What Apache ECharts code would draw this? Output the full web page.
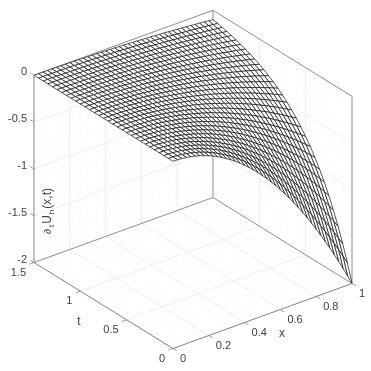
<!DOCTYPE html>
<html><head><meta charset="utf-8">
<style>html,body{margin:0;padding:0;background:#fff}#c{width:371px;height:371px}</style>
<script src="https://cdn.jsdelivr.net/npm/echarts@6/dist/echarts.min.js"></script>
</head><body><div id="c"></div>
<script>
const xMesh=[0,.025,.05,.075,.1,.125,.15,.175,.2,.225,.25,.275,.3,.325,.35,.375,.4,.425,.45,.475,.5,.525,.55,.575,.6,.625,.65,.675,.7,.725,.75,.775,.8,.825,.85,.875,.9,.925,.95,.975,1];
const tMesh=[0,.05,.1,.15,.2,.25,.3,.35,.4,.45,.5,.55,.6,.65,.7,.75,.8,.85,.9,.95,1,1.05,1.1,1.15,1.2,1.25,1.3,1.35,1.4,1.45,1.5];
// Height of the surface below z=0, one row per t in tMesh, one column per x in xMesh
const depthRows=[
[0,.001,.005,.011,.02,.031,.045,.061,.08,.101,.125,.151,.18,.211,.245,.281,.32,.361,.405,.451,.5,.551,.605,.661,.72,.781,.845,.911,.98,1.051,1.125,1.201,1.28,1.361,1.445,1.531,1.62,1.711,1.805,1.901,2],
[0,.001,.005,.01,.018,.028,.041,.055,.072,.092,.113,.137,.163,.191,.222,.254,.29,.327,.366,.408,.452,.499,.547,.598,.651,.707,.765,.825,.887,.951,1.018,1.087,1.158,1.232,1.307,1.385,1.466,1.548,1.633,1.72,1.81],
[0,.001,.004,.009,.016,.026,.037,.05,.065,.083,.102,.124,.147,.173,.201,.23,.262,.296,.332,.369,.409,.451,.495,.541,.589,.64,.692,.746,.802,.861,.921,.983,1.048,1.114,1.183,1.254,1.326,1.401,1.478,1.557,1.637],
[0,.001,.004,.008,.015,.023,.033,.045,.059,.075,.093,.112,.133,.156,.181,.208,.237,.268,.3,.334,.37,.408,.448,.49,.533,.579,.626,.675,.726,.779,.833,.89,.948,1.008,1.07,1.134,1.2,1.268,1.337,1.408,1.482],
[0,.001,.003,.008,.013,.021,.03,.041,.054,.068,.084,.101,.121,.142,.164,.189,.215,.242,.271,.302,.335,.37,.406,.443,.483,.524,.566,.611,.657,.705,.754,.805,.858,.912,.969,1.026,1.086,1.147,1.21,1.274,1.341],
[0,.001,.003,.007,.012,.019,.027,.037,.049,.061,.076,.092,.109,.128,.149,.171,.194,.219,.246,.274,.303,.334,.367,.401,.437,.474,.512,.553,.594,.638,.682,.729,.776,.826,.876,.929,.982,1.038,1.095,1.153,1.213],
[0,.001,.003,.006,.011,.017,.025,.034,.044,.056,.069,.083,.099,.116,.134,.154,.176,.198,.222,.248,.274,.303,.332,.363,.395,.429,.464,.5,.538,.577,.617,.659,.702,.747,.793,.84,.889,.939,.991,1.043,1.098],
[0,.001,.002,.006,.01,.016,.022,.03,.04,.05,.062,.075,.089,.105,.122,.14,.159,.179,.201,.224,.248,.274,.3,.328,.358,.388,.42,.453,.487,.522,.559,.597,.636,.676,.718,.76,.805,.85,.896,.944,.993],
[0,.001,.002,.005,.009,.014,.02,.028,.036,.045,.056,.068,.081,.095,.11,.126,.144,.162,.182,.203,.225,.248,.272,.297,.323,.351,.38,.409,.44,.472,.505,.54,.575,.612,.649,.688,.728,.769,.811,.854,.899],
[0,.001,.002,.005,.008,.013,.018,.025,.033,.041,.051,.062,.073,.086,.1,.114,.13,.147,.165,.183,.203,.224,.246,.269,.293,.318,.344,.371,.399,.427,.457,.488,.521,.554,.588,.623,.659,.696,.734,.773,.813],
[0,0,.002,.004,.007,.011,.017,.023,.029,.037,.046,.056,.066,.078,.09,.103,.118,.133,.149,.166,.184,.203,.223,.243,.265,.287,.311,.335,.361,.387,.414,.442,.471,.501,.532,.563,.596,.63,.664,.7,.736],
[0,0,.002,.004,.007,.01,.015,.02,.027,.034,.042,.05,.06,.07,.082,.094,.107,.12,.135,.15,.166,.184,.201,.22,.24,.26,.281,.303,.326,.35,.374,.4,.426,.453,.481,.51,.539,.57,.601,.633,.666],
[0,0,.002,.003,.006,.009,.014,.018,.024,.03,.038,.046,.054,.064,.074,.085,.096,.109,.122,.136,.151,.166,.182,.199,.217,.235,.255,.274,.295,.317,.339,.362,.386,.41,.435,.461,.488,.515,.544,.573,.602],
[0,0,.001,.003,.005,.009,.012,.017,.022,.028,.034,.041,.049,.058,.067,.077,.087,.098,.11,.123,.136,.15,.165,.18,.196,.213,.23,.248,.267,.286,.307,.327,.349,.371,.394,.417,.441,.466,.492,.518,.545],
[0,0,.001,.003,.005,.008,.011,.015,.02,.025,.031,.037,.044,.052,.06,.069,.079,.089,.1,.111,.123,.136,.149,.163,.178,.193,.208,.225,.242,.259,.277,.296,.316,.336,.356,.378,.4,.422,.445,.469,.493],
[0,0,.001,.003,.004,.007,.01,.014,.018,.023,.028,.034,.04,.047,.055,.063,.071,.081,.09,.101,.112,.123,.135,.148,.161,.174,.189,.203,.219,.235,.251,.268,.286,.304,.322,.342,.361,.382,.403,.424,.446],
[0,0,.001,.002,.004,.006,.009,.012,.016,.02,.025,.031,.036,.043,.049,.057,.065,.073,.082,.091,.101,.111,.122,.134,.145,.158,.171,.184,.198,.212,.227,.243,.258,.275,.292,.309,.327,.346,.364,.384,.404],
[0,0,.001,.002,.004,.006,.008,.011,.015,.018,.023,.028,.033,.039,.045,.051,.058,.066,.074,.082,.091,.101,.111,.121,.132,.143,.154,.167,.179,.192,.206,.219,.234,.249,.264,.28,.296,.313,.33,.347,.365],
[0,0,.001,.002,.003,.005,.007,.01,.013,.017,.021,.025,.03,.035,.04,.046,.053,.06,.067,.075,.083,.091,.1,.109,.119,.129,.14,.151,.162,.174,.186,.199,.212,.225,.239,.253,.268,.283,.298,.314,.331],
[0,0,.001,.002,.003,.005,.007,.009,.012,.015,.019,.023,.027,.032,.037,.042,.048,.054,.061,.068,.075,.082,.091,.099,.108,.117,.126,.136,.147,.157,.168,.18,.191,.204,.216,.229,.242,.256,.27,.284,.299],
[0,0,.001,.002,.003,.004,.006,.008,.011,.014,.017,.02,.024,.029,.033,.038,.043,.049,.055,.061,.068,.075,.082,.089,.097,.106,.114,.123,.133,.142,.152,.163,.173,.184,.195,.207,.219,.232,.244,.257,.271],
[0,0,.001,.001,.002,.004,.006,.008,.01,.012,.015,.019,.022,.026,.03,.034,.039,.044,.05,.055,.061,.068,.074,.081,.088,.096,.103,.112,.12,.129,.138,.147,.157,.167,.177,.188,.198,.21,.221,.233,.245],
[0,0,.001,.001,.002,.003,.005,.007,.009,.011,.014,.017,.02,.023,.027,.031,.035,.04,.045,.05,.055,.061,.067,.073,.08,.087,.094,.101,.109,.116,.125,.133,.142,.151,.16,.17,.179,.19,.2,.211,.222],
[0,0,.001,.001,.002,.003,.005,.006,.008,.01,.013,.015,.018,.021,.025,.028,.032,.036,.041,.045,.05,.055,.061,.066,.072,.078,.085,.091,.098,.105,.113,.121,.128,.137,.145,.154,.163,.172,.181,.191,.201],
[0,0,0,.001,.002,.003,.004,.006,.007,.009,.011,.014,.016,.019,.022,.026,.029,.033,.037,.041,.045,.05,.055,.06,.065,.071,.077,.083,.089,.095,.102,.109,.116,.123,.131,.139,.147,.155,.164,.172,.181],
[0,0,0,.001,.002,.003,.004,.005,.007,.008,.01,.012,.015,.017,.02,.023,.026,.03,.033,.037,.041,.045,.05,.054,.059,.064,.069,.075,.08,.086,.092,.099,.105,.112,.119,.126,.133,.14,.148,.156,.164],
[0,0,0,.001,.001,.002,.003,.005,.006,.008,.009,.011,.013,.016,.018,.021,.024,.027,.03,.034,.037,.041,.045,.049,.054,.058,.063,.068,.073,.078,.084,.089,.095,.101,.107,.114,.12,.127,.134,.141,.149],
[0,0,0,.001,.001,.002,.003,.004,.005,.007,.008,.01,.012,.014,.016,.019,.022,.024,.027,.03,.034,.037,.041,.044,.048,.053,.057,.061,.066,.071,.076,.081,.086,.091,.097,.103,.109,.115,.121,.128,.134],
[0,0,0,.001,.001,.002,.003,.004,.005,.006,.008,.009,.011,.013,.015,.017,.019,.022,.025,.027,.03,.034,.037,.04,.044,.048,.051,.055,.06,.064,.068,.073,.078,.083,.088,.093,.098,.104,.11,.116,.122],
[0,0,0,.001,.001,.002,.002,.003,.004,.006,.007,.008,.01,.012,.013,.015,.018,.02,.022,.025,.028,.03,.033,.036,.04,.043,.047,.05,.054,.058,.062,.066,.07,.075,.08,.084,.089,.094,.099,.105,.11],
[0,0,0,.001,.001,.002,.002,.003,.004,.005,.006,.008,.009,.011,.012,.014,.016,.018,.02,.022,.025,.027,.03,.033,.036,.039,.042,.045,.049,.052,.056,.06,.064,.068,.072,.076,.081,.085,.09,.095,.1]
];
const xTicks=[0,.2,.4,.6,.8,1], xLabels=['0','0.2','0.4','0.6','0.8','1'];
const tTicks=[0,.5,1,1.5], tLabels=['0','0.5','1','1.5'];
const zTicks=[0,-.5,-1,-1.5,-2], zLabels=['0','-0.5','-1','-1.5','-2'];
const xMinor=[.05,.1,.15,.25,.3,.35,.45,.5,.55,.65,.7,.75,.85,.9,.95];
const tMinor=[.1,.2,.3,.4,.6,.7,.8,.9,1.1,1.2,1.3,1.4];
const zMinor=[-.1,-.2,-.3,-.4,-.6,-.7,-.8,-.9,-1.1,-1.2,-1.3,-1.4,-1.6,-1.7,-1.8,-1.9];
const X1=1,T1=1.5,Z0=0,Z1=-2;
function proj(x,t,z){return [173+179*x-92.67*t,348.5-65*x-57.33*t-93.6*(z+2)];}
function seg(a,b,c,d,e,f){return [a,b,c,d,e,f];}
const major=[],minor=[];
function walls(xs,ts,zs,out){
 xs.forEach(x=>{out.push(seg(x,0,Z1,x,T1,Z1));out.push(seg(x,T1,Z1,x,T1,Z0));});
 ts.forEach(t=>{out.push(seg(0,t,Z1,X1,t,Z1));out.push(seg(X1,t,Z1,X1,t,Z0));});
 zs.forEach(z=>{out.push(seg(0,T1,z,X1,T1,z));out.push(seg(X1,0,z,X1,T1,z));});
}
walls(xTicks.slice(1,-1),tTicks.slice(1,-1),zTicks.slice(1,-1),major);
walls(xMinor,tMinor,zMinor,minor);
const backBox=[seg(0,T1,Z1,X1,T1,Z1),seg(X1,0,Z1,X1,T1,Z1),seg(0,T1,Z0,X1,T1,Z0),seg(X1,0,Z0,X1,T1,Z0),seg(X1,T1,Z1,X1,T1,Z0),seg(X1,0,Z1,X1,0,Z0)];
const frontAxes=[seg(0,0,Z1,X1,0,Z1),seg(0,0,Z1,0,T1,Z1),seg(0,T1,Z1,0,T1,Z0)];
const ticks=[];
xTicks.forEach(x=>ticks.push(seg(x,0,Z1,x,-.04,Z1)));
tTicks.forEach(t=>ticks.push(seg(0,t,Z1,-.025,t,Z1)));
zTicks.forEach(z=>ticks.push(seg(0,T1,z,0,T1+.04,z)));
const cells=[];
for(let j=tMesh.length-2;j>=0;j--)for(let i=xMesh.length-2;i>=0;i--){
 cells.push([xMesh[i],xMesh[i+1],tMesh[j],tMesh[j+1],-depthRows[j][i],-depthRows[j][i+1],-depthRows[j+1][i+1],-depthRows[j+1][i]]);
}
const labels=[];
xTicks.forEach((x,i)=>labels.push({value:[x,0,Z1,7,10.5,0],name:xLabels[i]}));
tTicks.forEach((t,i)=>labels.push({value:[0,t,Z1,-8,10,1],name:tLabels[i]}));
zTicks.forEach((z,i)=>labels.push({value:[0,T1,z,-7,-3,1],name:zLabels[i]}));
const FONT='11px "Liberation Sans"',INK='#404040';
function segSeries(data,style){
 return {type:'custom',coordinateSystem:'cartesian2d',clip:false,silent:true,animation:false,data:data,
  renderItem:(p,api)=>{
   const a=api.coord(proj(api.value(0),api.value(1),api.value(2)));
   const b=api.coord(proj(api.value(3),api.value(4),api.value(5)));
   return {type:'line',shape:{x1:a[0],y1:a[1],x2:b[0],y2:b[1]},style:style};
  }};
}
const option={animation:false,
 grid:{left:0,top:0,width:371,height:371},
 xAxis:{type:'value',min:0,max:371,show:false},
 yAxis:{type:'value',min:0,max:371,inverse:true,show:false},
 series:[
  segSeries(minor,{stroke:'#ececec',lineWidth:.6,lineDash:[1,3],fill:null}),
  segSeries(major,{stroke:'#e8e8e8',lineWidth:.8,fill:null}),
  segSeries(backBox,{stroke:'#8c8c8c',lineWidth:1,fill:null}),
  {type:'custom',coordinateSystem:'cartesian2d',clip:false,silent:true,animation:false,data:cells,
   renderItem:(p,api)=>{
    const x0=api.value(0),x1=api.value(1),t0=api.value(2),t1=api.value(3);
    const pts=[[x0,t0,api.value(4)],[x1,t0,api.value(5)],[x1,t1,api.value(6)],[x0,t1,api.value(7)]]
      .map(q=>api.coord(proj(q[0],q[1],q[2])));
    return {type:'polygon',shape:{points:pts},style:{fill:'#fff',stroke:'#111',lineWidth:.7}};
   }},
  segSeries(frontAxes,{stroke:'#808080',lineWidth:1,fill:null}),
  segSeries(ticks,{stroke:'#808080',lineWidth:.8,fill:null}),
  {type:'custom',coordinateSystem:'cartesian2d',clip:false,silent:true,animation:false,data:labels,
   renderItem:(p,api)=>{
    const a=api.coord(proj(api.value(0),api.value(1),api.value(2)));
    return {type:'text',x:a[0]+api.value(3),y:a[1]+api.value(4),
     style:{text:labels[p.dataIndex].name,font:FONT,fill:INK,align:api.value(5)?'right':'left',verticalAlign:'middle'}};
   }},
  {type:'custom',coordinateSystem:'cartesian2d',clip:false,silent:true,animation:false,data:[[282,334],[79,322]],
   renderItem:(p,api)=>{
    const a=api.coord([api.value(0),api.value(1)]);
    return {type:'text',x:a[0],y:a[1],style:{text:p.dataIndex?'t':'x',font:'12px "Liberation Sans"',fill:INK,align:'center',verticalAlign:'middle'}};
   }},
  {type:'custom',coordinateSystem:'cartesian2d',clip:false,silent:true,animation:false,data:[[48,211]],
   renderItem:(p,api)=>{
    const a=api.coord([api.value(0),api.value(1)]);
    return {type:'text',x:a[0],y:a[1],rotation:Math.PI/2,
     style:{text:'{d|∂}{s|t}{a|U}{s|h}{a|(x,t)}',align:'center',verticalAlign:'middle',
      rich:{a:{fontSize:12,fontFamily:'Liberation Sans',fill:INK},
            d:{fontSize:10,fontFamily:'Liberation Sans',fill:INK,padding:[0,1,0,0]},
            s:{fontSize:8,fontFamily:'Liberation Sans',fill:INK,padding:[7,1,0,1]}}}};
   }}
 ]};
const chart=echarts.init(document.getElementById('c'),null,{renderer:'canvas'});
chart.setOption(option);
</script></body></html>
